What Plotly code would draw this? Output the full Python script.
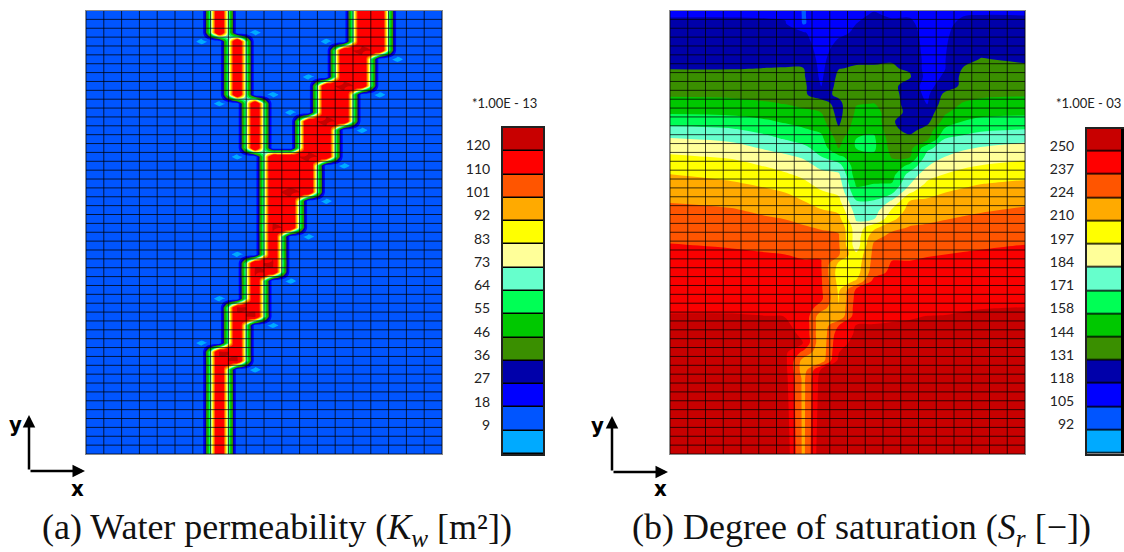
import numpy as np
import plotly.graph_objects as go

W, H = 1124, 552

# ---------- shared legend colours, top (high) to bottom (low)
band_colors = ["#c80000", "#ff0000", "#ff5500", "#ffaa00", "#ffff00", "#ffff99", "#66ffcc",
               "#00ff55", "#00c800", "#3a8f00", "#0000aa", "#0000ff", "#0055ff", "#00aaff"]
perm_labels = ["120", "110", "101", "92", "83", "73", "64", "55", "46", "36", "27", "18", "9"]
sat_labels = ["250", "237", "224", "210", "197", "184", "171", "158", "144", "131", "118", "105", "92"]

# ---------- panel (a): 20 x 50 cells, channel cells per row
n_cols, n_rows = 20, 50
branch_col = [7, 7, 7, 8, 8, 8, 8, 8, 8, 8, 9, 9, 9, 9, 9, 9]
main_first = [15, 15, 15, 15, 14, 14, 14, 14, 13, 13, 13, 13, 12, 12, 12, 12,
              10, 10, 10, 10, 10, 10, 10, 10, 10, 10, 10, 10, 9, 9, 9, 9, 9, 8, 8, 8, 8, 8, 7, 7,
              7, 7, 7, 7, 7, 7, 7, 7, 7, 7]
main_last = [16, 16, 16, 16, 16, 15, 15, 15, 15, 14, 14, 14, 14, 13, 13, 13,
             13, 12, 12, 12, 12, 11, 11, 11, 11, 10, 10, 10, 10, 10, 9, 9, 9, 9, 9, 8, 8, 8, 8, 8,
             7, 7, 7, 7, 7, 7, 7, 7, 7, 7]
# permeability read across a channel edge: weight of the channel cell -> value
edge_weight = [0.0, 0.10, 0.24, 0.41, 0.55, 0.72, 1.0, 1.05]
edge_value = [9.5, 18.3, 36.0, 55.0, 73.0, 110.0, 119.0, 121.0]
hot_cells = [(4, 15), (8, 14), (12, 13), (16, 12), (20, 11), (24, 10), (28, 10), (29, 9), (33, 8), (34, 9), (38, 7), (39, 8)]
low_cells = [(2, 9), (3, 6), (3, 13), (5, 17), (7, 12), (9, 10), (9, 16), (10, 7), (11, 11), (13, 15),
             (16, 8), (17, 14), (21, 13), (25, 12), (27, 8), (30, 11), (32, 7), (35, 10), (37, 6), (40, 9)]
low_drop = 0.72

# ---------- panel (b): saturation profiles, (depth, value) pairs per column
sat_x = [30, 216, 323, 376, 430, 483, 536, 589, 642, 696, 749, 802, 855, 909, 962, 1095]
sat_profiles = [
    [(32,117),(50,118),(205,131),(290,144),(345,158),(378,171),(413,184),(460,197),(520,210),(610,224),(730,237),(935,250),(1362,262)],
    [(32,117),(50,118),(205,131),(295,144),(350,158),(385,171),(425,184),(475,197),(540,210),(625,224),(745,237),(935,250),(1362,262)],
    [(32,117),(55,118),(200,131),(305,144),(360,158),(405,171),(450,184),(500,197),(560,210),(650,224),(757,237),(945,250),(1362,262)],
    [(32,116),(60,118),(198,131),(310,144),(372,158),(420,171),(460,184),(515,197),(575,210),(660,224),(765,237),(950,250),(1362,260)],
    [(32,104),(72,104),(85,118),(195,131),(259,135),(285,133),(320,144),(385,158),(435,171),(475,184),(535,197),(600,210),(675,224),(775,237),(950,248),(1032,250),(1059,232),(1086,216),(1112,216),(1130,220),(1362,220)],
    [(32,112),(120,112),(259,117),(285,127),(312,136),(339,145),(365,150),(400,158),(470,171),(505,184),(570,197),(625,210),(690,224),(770,237),(900,240),(915,237),(930,225),(945,215),(1000,213),(1080,214),(1090,220),(1100,237),(1112,255),(1362,261)],
    [(32,114),(100,116),(179,128),(205,131),(232,134.7),(259,137),(285,134),(300,130),(312,128),(339,127),(365,129),(392,134),(419,140),(445,144),(465,158),(490,171),(510,184),(590,197),(640,210),(690,224),(770,226),(780,215),(795,205),(830,203),(850,207),(880,209),(925,211),(952,214),(965,222),(979,240),(1006,245),(1032,248),(1059,250),(1110,258),(1362,262)],
    [(32,116),(100,120),(190,131),(312,144),(339,147),(392,153),(419,158.5),(445,158.5),(472,150),(525,150),(552,156),(579,162),(600,171),(632,178),(665,184),(686,190),(745,190),(750,197),(776,202),(820,205),(835,207),(850,215),(860,228),(870,240),(950,245),(960,250),(1362,262)],
    [(32,118),(190,131),(285,140),(312,145),(339,150),(365,153),(392,156),(419,160),(445,160),(472,155),(499,150),(525,147),(552,158),(579,166),(605,172),(632,178),(659,184),(675,197),(690,215),(712,220),(730,226),(815,230),(830,240),(950,248),(965,250),(1362,262)],
    [(32,116),(180,131),(285,137),(312,138),(339,137),(365,133),(392,135),(445,140),(472,144),(550,158),(585,171),(600,184),(625,197),(660,208),(690,224),(700,226),(780,237),(960,250),(1362,262)],
    [(32,116),(172,131),(205,130),(232,133),(259,124),(285,124),(312,125),(339,128),(365,124),(392,128),(419,136),(475,144),(495,158),(505,171),(555,184),(580,197),(600,210),(680,224),(781,237),(955,250),(1362,262)],
    [(32,115),(150,112),(259,114),(312,118),(339,124),(365,128),(392,137),(430,144),(437,158),(447,171),(500,184),(540,197),(590,210),(672,224),(770,237),(945,250),(1362,262)],
    [(32,116),(179,118),(205,118),(232,120),(259,125),(285,135),(312,139),(339,143),(350,144),(385,158),(415,171),(470,184),(520,197),(575,210),(662,224),(765,237),(940,250),(1362,262)],
    [(32,117),(179,128),(205,132),(232,135),(259,134),(285,140),(305,144),(365,158),(405,171),(450,184),(505,197),(560,210),(650,224),(755,237),(930,250),(1362,262)],
    [(32,117),(179,132),(205,132),(295,144),(355,158),(395,171),(440,184),(495,197),(550,210),(640,224),(748,237),(925,250),(1362,262)],
    [(32,117),(188,131),(288,144),(350,158),(388,171),(425,184),(480,197),(535,210),(620,224),(735,237),(920,250),(1362,262)],
]


def dom_x(a, b):
    return [a / W, b / W]


def dom_y(top, bottom):
    return [1 - bottom / H, 1 - top / H]


def step_scale(colors):
    # each colour holds around its own node, so that no band can blend with its neighbour
    n = len(colors) - 1
    scale = []
    for i, c in enumerate(colors):
        scale += [[max(0, (i - 0.45) / n), c], [min(1, (i + 0.45) / n), c]]
    return scale


def half_step_scale(colors):
    # each colour after the first holds the whole interval below its node
    n = len(colors) - 1
    scale = [[0, colors[0]]]
    for i, c in enumerate(colors[1:], start=1):
        scale += [[(i - 1 + 0.02) / n, c], [(i - 0.02) / n, c]]
    scale.append([1, colors[-1]])
    return scale


def bar_scale(colors):
    n = len(colors)
    scale = []
    for i, c in enumerate(colors):
        scale += [[i / n, c], [(i + 1) / n, c]]
    return scale


# ---------- build panel (a) field on cell centres, padded to the frame
weight = np.zeros((n_rows, n_cols))
low = np.zeros((n_rows, n_cols))
for r in range(n_rows):
    weight[r, main_first[r]:main_last[r] + 1] = 1.0
    if r < len(branch_col):
        weight[r, branch_col[r]] = 1.0
for r, c in hot_cells:
    weight[r, c] = 1.05
for r, c in low_cells:
    low[r, c] = 1.0


def pad(a):
    return np.pad(a, 1, mode="edge")


ax_x = np.r_[0, np.arange(n_cols) + 0.5, n_cols]
ax_y = np.r_[0, np.arange(n_rows) + 0.5, n_rows]
fine_x = np.linspace(0, n_cols, n_cols * 4 + 1)
fine_y = np.linspace(0, n_rows, n_rows * 4 + 1)


def refine(a):
    by_x = np.array([np.interp(fine_x, ax_x, row) for row in pad(a)])
    return np.array([np.interp(fine_y, ax_y, col) for col in by_x.T]).T


perm_z = np.interp(refine(weight), edge_weight, edge_value) - low_drop * refine(low)

# ---------- build panel (b) field
sat_top, sat_bottom, sat_left, sat_right = 32.0, 1362.0, 30.0, 1095.0
row_pitch = (sat_bottom - sat_top) / n_rows
sat_y = np.r_[sat_top, sat_top + row_pitch * (np.arange(n_rows) + 0.5), sat_bottom]
sat_z = np.array([np.interp(sat_y, [p[0] for p in prof], [p[1] for p in prof]) for prof in sat_profiles]).T

fig = go.Figure()

# panel (a)
perm_start, perm_size = 9.0, 9.25
perm_end = 120.0 + perm_size
fig.add_trace(go.Contour(x=fine_x, y=fine_y, z=perm_z, xaxis="x", yaxis="y",
                         zmin=perm_start - perm_size, zmax=perm_end, zauto=False,
                         colorscale=half_step_scale(band_colors[::-1]),
                         contours=dict(coloring="fill", start=perm_start, end=perm_end, size=perm_size),
                         line=dict(width=0), showscale=False, hoverinfo="skip"))

# panel (b)
sat_start, sat_size = 92.0, 13.1667
sat_end = 250.0 + sat_size
fig.add_trace(go.Contour(x=sat_x, y=sat_y, z=sat_z, xaxis="x2", yaxis="y2",
                         zmin=sat_start - sat_size, zmax=sat_end, zauto=False,
                         colorscale=step_scale(band_colors[::-1]),
                         contours=dict(coloring="fill", start=sat_start, end=sat_end, size=sat_size),
                         line=dict(width=0), showscale=False, hoverinfo="skip"))


# mesh lines
def mesh(x0, x1, y0, y1, nx, ny):
    xs, ys = [], []
    for v in np.linspace(x0, x1, nx + 1):
        xs += [v, v, None]
        ys += [y0, y1, None]
    for v in np.linspace(y0, y1, ny + 1):
        xs += [x0, x1, None]
        ys += [v, v, None]
    return xs, ys


grid_style = dict(color="rgba(0,0,0,0.75)", width=1)
xs, ys = mesh(0, n_cols, 0, n_rows, n_cols, n_rows)
fig.add_trace(go.Scatter(x=xs, y=ys, xaxis="x", yaxis="y", mode="lines", line=grid_style, hoverinfo="skip", showlegend=False))
xs, ys = mesh(sat_left, sat_right, sat_top, sat_bottom, n_cols, n_rows)
fig.add_trace(go.Scatter(x=xs, y=ys, xaxis="x2", yaxis="y2", mode="lines", line=grid_style, hoverinfo="skip", showlegend=False))

# legend bars
band_index = list(range(14))
fig.add_trace(go.Heatmap(z=[[i] for i in band_index], x=[0], y=band_index, xaxis="x3", yaxis="y3", zmin=0, zmax=14, zauto=False,
                         colorscale=bar_scale(band_colors), ygap=1.5, showscale=False, hoverinfo="skip"))
fig.add_trace(go.Heatmap(z=[[i] for i in band_index], x=[0], y=band_index, xaxis="x4", yaxis="y4", zmin=0, zmax=14, zauto=False,
                         colorscale=bar_scale(band_colors), ygap=1.5, showscale=False, hoverinfo="skip"))

hidden = dict(showticklabels=False, ticks="", showgrid=False, zeroline=False)
frame = dict(showline=True, mirror=True, linecolor="#8a8a8a", linewidth=1)
bar_frame = dict(showline=True, mirror=True, linecolor="#222222", linewidth=2)
label_pos = [i + 0.25 for i in range(13)]
label_font = dict(family="Lato", size=14, color="#222222")

fig.update_layout(
    width=W, height=H, margin=dict(l=0, r=0, t=0, b=0), autosize=False,
    paper_bgcolor="white", plot_bgcolor="black", showlegend=False,
    xaxis=dict(domain=dom_x(86, 442), range=[0, n_cols], **hidden, **frame),
    yaxis=dict(domain=dom_y(10.5, 454), range=[n_rows, 0], **hidden, **frame),
    xaxis2=dict(domain=dom_x(670, 1025), range=[sat_left, sat_right], anchor="y2", **hidden, **frame),
    yaxis2=dict(domain=dom_y(10.5, 454), range=[sat_bottom, sat_top], anchor="x2", **hidden, **frame),
    xaxis3=dict(domain=dom_x(503, 543), range=[-0.5, 0.5], anchor="y3", **hidden, **bar_frame),
    yaxis3=dict(domain=dom_y(128, 454), range=[13.5, -0.5], anchor="x3", showgrid=False, zeroline=False,
                tickmode="array", tickvals=label_pos, ticktext=perm_labels, ticks="outside", ticklen=8,
                tickcolor="rgba(0,0,0,0)", tickfont=label_font, **bar_frame),
    xaxis4=dict(domain=dom_x(1087, 1124), range=[-0.5, 0.6], anchor="y4", showticklabels=False, ticks="", showgrid=False,
                zeroline=False, showline=True, mirror=True, linecolor="#222222", linewidth=2),
    yaxis4=dict(domain=dom_y(128.5, 453.5), range=[13.5, -0.5], anchor="x4", showgrid=False, zeroline=False,
                tickmode="array", tickvals=label_pos, ticktext=sat_labels, ticks="outside", ticklen=8,
                tickcolor="rgba(0,0,0,0)", tickfont=label_font, showline=True, linecolor="#222222", linewidth=2),
)


def paper(xpx, ypx):
    return dict(xref="paper", yref="paper", x=xpx / W, y=1 - ypx / H, xanchor="center", yanchor="middle")


# scale titles, captions and axis triads
for xpx, text in [(504, "*1.00E - 13"), (1088, "*1.00E - 03")]:
    fig.add_annotation(**paper(xpx, 103), text=text, showarrow=False, font=dict(family="Lato", size=13, color="#222222"))

serif = dict(family="Liberation Serif", size=36, color="#111111")
fig.add_annotation(**paper(277, 529), text="(a) Water permeability (<i>K<sub>w</sub></i> [m²])", showarrow=False, font=serif)
fig.add_annotation(**paper(861, 529), text="(b) Degree of saturation (<i>S<sub>r</sub></i> [−])", showarrow=False, font=serif)

for ox, oy, lx, ly, tx, ty in [(29, 471, 15, 424, 77, 488), (612, 472, 597, 425, 660, 488)]:
    fig.add_annotation(**paper(ox, oy - 56), ax=0, ay=56, axref="pixel", ayref="pixel", text="", showarrow=True,
                       arrowhead=2, arrowsize=1, arrowwidth=2.5, arrowcolor="black")
    fig.add_annotation(**paper(ox + 56, oy), ax=-56, ay=0, axref="pixel", ayref="pixel", text="", showarrow=True,
                       arrowhead=2, arrowsize=1, arrowwidth=2.5, arrowcolor="black")
    axis_font = dict(family="DejaVu Sans Condensed, DejaVu Sans", size=22, color="black")
    fig.add_annotation(**paper(lx, ly), text="<b>y</b>", showarrow=False, font=axis_font)
    fig.add_annotation(**paper(tx, ty), text="<b>x</b>", showarrow=False, font=axis_font)

fig.write_html("out.html", config=dict(displayModeBar=False),
               post_script="document.body.style.margin='0';document.body.style.overflow='hidden';")
